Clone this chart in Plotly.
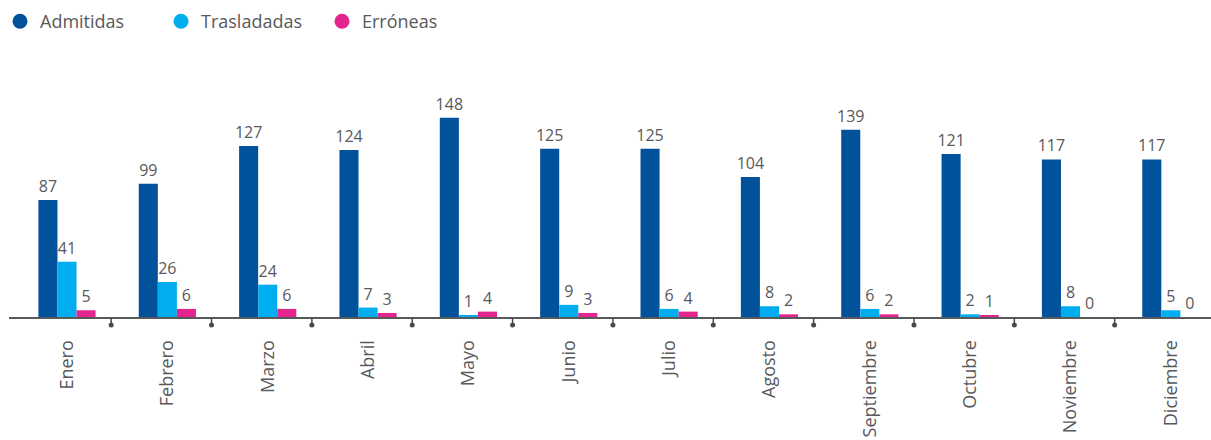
import plotly.graph_objects as go

# Monthly counts per status
meses = ["Enero", "Febrero", "Marzo", "Abril", "Mayo", "Junio", "Julio",
         "Agosto", "Septiembre", "Octubre", "Noviembre", "Diciembre"]
admitidas = [87, 99, 127, 124, 148, 125, 125, 104, 139, 121, 117, 117]
trasladadas = [41, 26, 24, 7, 1, 9, 6, 8, 6, 2, 8, 5]
erroneas = [5, 6, 6, 3, 4, 3, 4, 2, 2, 1, 0, 0]

series = [
    ("Admitidas", admitidas, "#02519b"),
    ("Trasladadas", trasladadas, "#00adef"),
    ("Erróneas", erroneas, "#e3268f"),
]

FONT = "'Open Sans', Lato, sans-serif"
GREY = "#58595b"

fig = go.Figure()

for name, vals, color in series:
    fig.add_trace(go.Bar(
        x=meses, y=vals, name=name, marker_color=color,
        marker_line_width=0, showlegend=False,
        text=vals, textposition="outside", constraintext="none",
        cliponaxis=False,
        textfont=dict(family=FONT, size=16, color=GREY),
    ))

# round legend markers
for name, vals, color in series:
    fig.add_trace(go.Scatter(
        x=[None], y=[None], mode="markers", name=name,
        marker=dict(symbol="circle", size=15, color=color),
    ))

# dotted tick marks between months (below the axis line)
shapes = []
for i in range(len(meses) - 1):
    b = i + 0.5
    shapes.append(dict(
        type="line", xref="x", yref="paper",
        xsizemode="pixel", xanchor=b, x0=-6, x1=-6,
        ysizemode="pixel", yanchor=0, y0=-1, y1=-7,
        line=dict(color="#4a4a4a", width=1.5),
    ))
    shapes.append(dict(
        type="circle", xref="x", yref="paper",
        xsizemode="pixel", xanchor=b, x0=-8.5, x1=-3.5,
        ysizemode="pixel", yanchor=0, y0=-10.5, y1=-5.5,
        fillcolor="#4a4a4a", line=dict(width=0),
    ))

fig.update_layout(
    width=1211, height=440,
    margin=dict(l=9, r=0, t=60, b=123),
    paper_bgcolor="white", plot_bgcolor="white",
    barmode="group", bargap=0.43, bargroupgap=0,
    font=dict(family=FONT, color=GREY),
    shapes=shapes,
    legend=dict(
        orientation="h", x=0, y=0.993, xref="container", yref="container",
        xanchor="left", yanchor="top",
        font=dict(family=FONT, size=18, color=GREY),
        itemwidth=30, tracegroupgap=0, entrywidth=116,
    ),
    xaxis=dict(
        type="category", range=[-0.578, 11.40],
        showline=True, linecolor="#58595b", linewidth=2,
        ticks="", showgrid=False, zeroline=False,
        tickangle=-90, ticklabelstandoff=14,
        tickfont=dict(family=FONT, size=18, color=GREY),
    ),
    yaxis=dict(
        range=[0, 190.9], visible=False, showgrid=False, zeroline=False,
    ),
)

fig.write_html("out.html")
